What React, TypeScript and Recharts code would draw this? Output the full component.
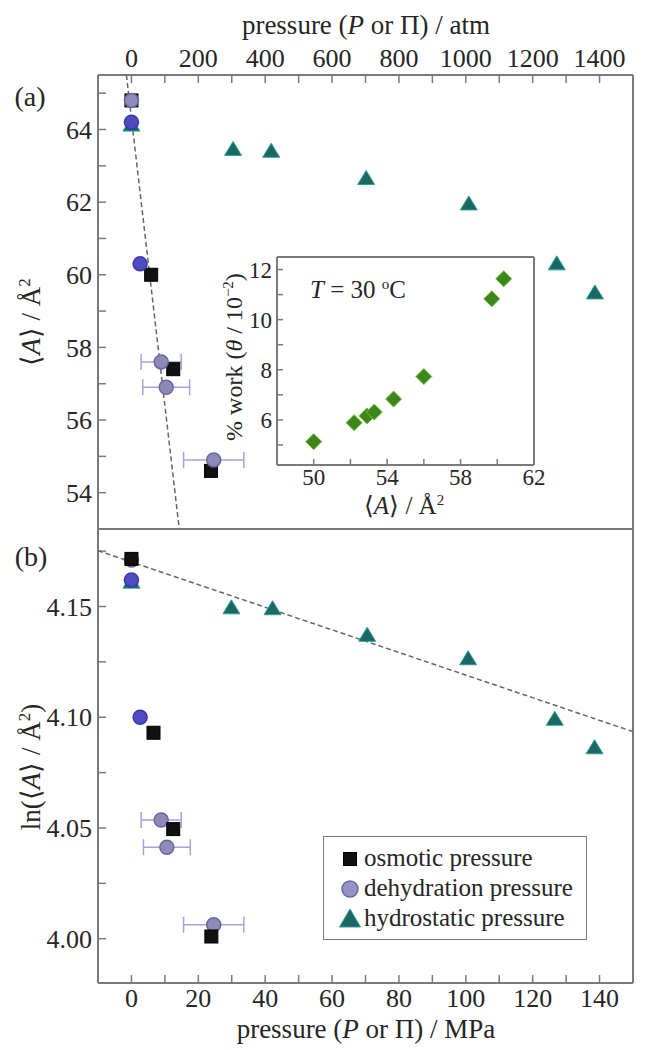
import { ScatterChart, Scatter, XAxis, YAxis, ErrorBar, Legend } from "recharts";

const FONT = "'Liberation Serif', 'Times New Roman', Times, serif";
const TEXT = "#262626";
const FRAME = "#7a7a7a";

// panel (a): <A> / Å^2 against pressure in MPa
const osmoticA = [
  { x: 0, y: 64.8 },
  { x: 5.9, y: 60.0 },
  { x: 12.5, y: 57.4 },
  { x: 23.8, y: 54.6 },
];
const dehydBlueA = [
  { x: 0, y: 64.2 },
  { x: 2.6, y: 60.3 },
];
const dehydGrayA = [
  { x: 0, y: 64.8 },
  { x: 8.9, y: 57.6, err: 6 },
  { x: 10.4, y: 56.9, err: 7 },
  { x: 24.6, y: 54.9, err: 9 },
];
const hydroA = [
  { x: 0, y: 64.12 },
  { x: 30.4, y: 63.45 },
  { x: 41.8, y: 63.4 },
  { x: 70.2, y: 62.65 },
  { x: 100.9, y: 61.95 },
  { x: 127.2, y: 60.3 },
  { x: 138.6, y: 59.5 },
];
const fitA = [
  { x: -1.5, y: 65.5 },
  { x: 14.3, y: 53 },
];

// panel (b): ln(<A> / Å^2)
const osmoticB = [
  { x: 0, y: 4.1715 },
  { x: 6.6, y: 4.093 },
  { x: 12.5, y: 4.0495 },
  { x: 23.9, y: 4.001 },
];
const dehydBlueB = [
  { x: 0, y: 4.162 },
  { x: 2.6, y: 4.1 },
];
const dehydGrayB = [
  { x: 0, y: 4.171 },
  { x: 8.9, y: 4.0536, err: 6 },
  { x: 10.6, y: 4.0413, err: 7 },
  { x: 24.6, y: 4.0063, err: 9 },
];
const hydroB = [
  { x: 0, y: 4.161 },
  { x: 29.9, y: 4.1494 },
  { x: 42.2, y: 4.149 },
  { x: 70.5, y: 4.137 },
  { x: 100.7, y: 4.1264 },
  { x: 126.6, y: 4.0991 },
  { x: 138.5, y: 4.0862 },
];
const fitB = [
  { x: -10, y: 4.1752 },
  { x: 150, y: 4.0935 },
];

// inset: % work vs <A>
const insetArea = [50.0, 52.2, 52.9, 53.3, 54.35, 56.0, 59.7, 60.35];
const insetWork = [5.13, 5.89, 6.16, 6.31, 6.83, 7.73, 10.83, 11.63];
const insetData = insetArea.map((a, i) => ({ x: a, y: insetWork[i] }));

// ticks
const atmTicks = [0, 100, 200, 300, 400, 500, 600, 700, 800, 900, 1000, 1100, 1200, 1300, 1400];
const mpaTicks = [0, 10, 20, 30, 40, 50, 60, 70, 80, 90, 100, 110, 120, 130, 140];
const areaTicks = [54, 55, 56, 57, 58, 59, 60, 61, 62, 63, 64, 65];
const lnTicks = [4.0, 4.025, 4.05, 4.075, 4.1, 4.125, 4.15, 4.175];
const insetXTicks = [50, 52, 54, 56, 58, 60, 62];
const insetYTicks = [5, 6, 7, 8, 9, 10, 11, 12];

const legendNames = ["osmotic pressure", "dehydration pressure", "hydrostatic pressure"];

const tickFont = { fontSize: 26, fill: TEXT, fontFamily: FONT };
const insetFont = { fontSize: 23, fill: TEXT, fontFamily: FONT };
const tickLine = { stroke: FRAME, strokeWidth: 1.5 };
const axisLine = { stroke: FRAME, strokeWidth: 2 };

const every = (n: number, from = 0) => (v: number) =>
  Math.round(v - from) % n === 0 ? String(v) : "";
const lnFmt = (v: number) => (Math.round(v * 1000) % 50 === 0 ? v.toFixed(2) : "");

const SquareMark = (p: any) => (
  <rect x={p.cx - 6.5} y={p.cy - 6.5} width={13} height={13} fill="#111" stroke="#000" strokeWidth={1} />
);
const grayCircle = (p: any) => (
  <circle cx={p.cx} cy={p.cy} r={7} fill="#8d8ab8" stroke="#6a679c" strokeWidth={1.5} />
);
const blueCircle = (p: any) => (
  <circle cx={p.cx} cy={p.cy} r={7} fill="#4f4cc2" stroke="#3b38a8" strokeWidth={1.5} />
);
const TriangleMark = (p: any) => (
  <path
    d={`M${p.cx},${p.cy - 8} L${p.cx + 8.5},${p.cy + 6} L${p.cx - 8.5},${p.cy + 6} Z`}
    fill="#1b6763"
    stroke="#2f9f99"
    strokeWidth={1}
  />
);
const DiamondMark = (p: any) => (
  <path
    d={`M${p.cx},${p.cy - 8} L${p.cx + 8},${p.cy} L${p.cx},${p.cy + 8} L${p.cx - 8},${p.cy} Z`}
    fill="#3c861c"
    stroke="#79bf3f"
    strokeWidth={1}
  />
);
const noMark = () => <g />;

const legendIcons: Record<string, (p: any) => any> = {
  "osmotic pressure": SquareMark,
  "dehydration pressure": (p: any) => (
    <circle cx={p.cx} cy={p.cy} r={8} fill="#9693c9" stroke="#6a679c" strokeWidth={1.5} />
  ),
  "hydrostatic pressure": (p: any) => (
    <path
      d={`M${p.cx},${p.cy - 10} L${p.cx + 10.5},${p.cy + 8} L${p.cx - 10.5},${p.cy + 8} Z`}
      fill="#1b6763"
      stroke="#2f9f99"
      strokeWidth={1}
    />
  ),
};

function LegendBox(props: any) {
  const items = (props.payload || [])
    .filter((e: any) => legendNames.includes(e.value))
    .sort((a: any, b: any) => legendNames.indexOf(a.value) - legendNames.indexOf(b.value));
  return (
    <div
      style={{
        border: `1.5px solid ${FRAME}`,
        background: "#fff",
        padding: "6px 6px 6px 14px",
        fontFamily: FONT,
        fontSize: 25,
        color: TEXT,
        lineHeight: "30px",
      }}
    >
      {items.map((e: any) => (
        <div key={e.value} style={{ display: "flex", alignItems: "center", whiteSpace: "nowrap" }}>
          <svg width={24} height={24} style={{ marginRight: 2 }}>
            {legendIcons[e.value]({ cx: 12, cy: 13 })}
          </svg>
          <span>{e.value}</span>
        </div>
      ))}
    </div>
  );
}

function Titles() {
  return (
    <svg
      width={651}
      height={1050}
      style={{ position: "absolute", left: 0, top: 0, pointerEvents: "none", fontFamily: FONT }}
      fill={TEXT}
    >
      <text x={366} y={34} fontSize={27} textAnchor="middle">
        pressure (<tspan fontStyle="italic">P</tspan> or Π) / atm
      </text>
      <text x={366} y={1038} fontSize={27} textAnchor="middle">
        pressure (<tspan fontStyle="italic">P</tspan> or Π) / MPa
      </text>
      <text x={30} y={106} fontSize={28} textAnchor="middle">
        (a)
      </text>
      <text x={31} y={566} fontSize={28} textAnchor="middle">
        (b)
      </text>
      <text transform="translate(40,322) rotate(-90)" fontSize={27} textAnchor="middle">
        ⟨<tspan fontStyle="italic">A</tspan>⟩ / Å
        <tspan dy={-10} fontSize={17}>2</tspan>
      </text>
      <text transform="translate(40,767) rotate(-90)" fontSize={27} textAnchor="middle">
        ln(⟨<tspan fontStyle="italic">A</tspan>⟩ / Å
        <tspan dy={-10} fontSize={17}>2</tspan>
        <tspan dy={10}>)</tspan>
      </text>
      <text transform="translate(242,357) rotate(-90)" fontSize={24} textAnchor="middle">
        % work (<tspan fontStyle="italic">θ</tspan> / 10
        <tspan dy={-9} fontSize={15}>−2</tspan>
        <tspan dy={9}>)</tspan>
      </text>
      <text x={404} y={514} fontSize={25} textAnchor="middle">
        ⟨<tspan fontStyle="italic">A</tspan>⟩ / Å
        <tspan dy={-9} fontSize={15}>2</tspan>
      </text>
      <text x={310} y={298} fontSize={25}>
        <tspan fontStyle="italic">T</tspan> = 30 <tspan dy={-9} fontSize={15}>o</tspan>
        <tspan dy={9}>C</tspan>
      </text>
    </svg>
  );
}

export default function App() {
  return (
    <div style={{ position: "absolute", left: 0, top: 0, width: 651, height: 1050, background: "#fff", fontFamily: FONT }}>
      {/* panel (a) */}
      <div style={{ position: "absolute", left: 0, top: 0 }}>
        <ScatterChart width={651} height={530} margin={{ top: 35, right: 17, bottom: 0, left: 38 }}>
          <XAxis
            xAxisId="top"
            orientation="top"
            type="number"
            dataKey="x"
            domain={[-100, 1500]}
            allowDataOverflow
            ticks={atmTicks}
            interval={0}
            height={40}
            tickSize={-8}
            tickMargin={16}
            tickFormatter={every(200)}
            tick={tickFont}
            tickLine={tickLine}
            axisLine={axisLine}
          />
          <XAxis
            xAxisId="bottom"
            orientation="bottom"
            type="number"
            dataKey="x"
            domain={[-10, 150]}
            allowDataOverflow
            ticks={mpaTicks}
            interval={0}
            height={1}
            tickSize={-8}
            tick={false}
            tickLine={tickLine}
            axisLine={axisLine}
          />
          <YAxis
            yAxisId="left"
            type="number"
            dataKey="y"
            domain={[53, 65.5]}
            allowDataOverflow
            ticks={areaTicks}
            interval={0}
            width={60}
            tickSize={-8}
            tickMargin={14}
            tickFormatter={every(2)}
            tick={tickFont}
            tickLine={tickLine}
            axisLine={axisLine}
          />
          <YAxis
            yAxisId="right"
            orientation="right"
            type="number"
            dataKey="y"
            domain={[53, 65.5]}
            allowDataOverflow
            ticks={areaTicks}
            interval={0}
            width={1}
            tickSize={-8}
            tick={false}
            tickLine={tickLine}
            axisLine={axisLine}
          />
          <Scatter data={fitA} xAxisId="bottom" yAxisId="left" shape={noMark}
            line={{ stroke: "#666", strokeWidth: 1.5, strokeDasharray: "5 3" }} isAnimationActive={false} />
          <Scatter data={hydroA} xAxisId="bottom" yAxisId="left" shape={TriangleMark} isAnimationActive={false} />
          <Scatter data={osmoticA} xAxisId="bottom" yAxisId="left" shape={SquareMark} isAnimationActive={false} />
          <Scatter data={dehydGrayA} xAxisId="bottom" yAxisId="left" shape={grayCircle} isAnimationActive={false}>
            <ErrorBar dataKey="err" direction="x" width={8} stroke="#a6a3da" strokeWidth={1.5} />
          </Scatter>
          <Scatter data={dehydBlueA} xAxisId="bottom" yAxisId="left" shape={blueCircle} isAnimationActive={false} />
        </ScatterChart>
      </div>

      {/* panel (b) */}
      <div style={{ position: "absolute", left: 0, top: 500 }}>
        <ScatterChart width={651} height={550} margin={{ top: 28, right: 17, bottom: 27, left: 38 }}>
          <XAxis
            xAxisId="top"
            orientation="top"
            type="number"
            dataKey="x"
            domain={[-10, 150]}
            allowDataOverflow
            ticks={mpaTicks}
            interval={0}
            height={1}
            tickSize={-8}
            tick={false}
            tickLine={tickLine}
            axisLine={axisLine}
          />
          <XAxis
            xAxisId="bottom"
            orientation="bottom"
            type="number"
            dataKey="x"
            domain={[-10, 150]}
            allowDataOverflow
            ticks={mpaTicks}
            interval={0}
            height={40}
            tickSize={-8}
            tickMargin={14}
            tickFormatter={every(20)}
            tick={tickFont}
            tickLine={tickLine}
            axisLine={axisLine}
          />
          <YAxis
            yAxisId="left"
            type="number"
            dataKey="y"
            domain={[3.98, 4.185]}
            allowDataOverflow
            ticks={lnTicks}
            interval={0}
            width={60}
            tickSize={-8}
            tickMargin={14}
            tickFormatter={lnFmt}
            tick={tickFont}
            tickLine={tickLine}
            axisLine={axisLine}
          />
          <YAxis
            yAxisId="right"
            orientation="right"
            type="number"
            dataKey="y"
            domain={[3.98, 4.185]}
            allowDataOverflow
            ticks={lnTicks}
            interval={0}
            width={1}
            tickSize={-8}
            tick={false}
            tickLine={tickLine}
            axisLine={axisLine}
          />
          <Scatter data={fitB} xAxisId="bottom" yAxisId="left" shape={noMark} legendType="none"
            line={{ stroke: "#666", strokeWidth: 1.5, strokeDasharray: "5 3" }} isAnimationActive={false} />
          <Scatter name="dehydration pressure" data={dehydGrayB} xAxisId="bottom" yAxisId="left"
            shape={grayCircle} isAnimationActive={false}>
            <ErrorBar dataKey="err" direction="x" width={8} stroke="#a6a3da" strokeWidth={1.5} />
          </Scatter>
          <Scatter name="hydrostatic pressure" data={hydroB} xAxisId="bottom" yAxisId="left"
            shape={TriangleMark} isAnimationActive={false} />
          <Scatter data={dehydBlueB} xAxisId="bottom" yAxisId="left" shape={blueCircle} legendType="none"
            isAnimationActive={false} />
          <Scatter name="osmotic pressure" data={osmoticB} xAxisId="bottom" yAxisId="left"
            shape={SquareMark} isAnimationActive={false} />
          <Legend
            layout="vertical"
            align="center"
            verticalAlign="middle"
            content={<LegendBox />}
            wrapperStyle={{ left: 323, top: 336, width: 264 }}
          />
        </ScatterChart>
      </div>

      {/* inset */}
      <div style={{ position: "absolute", left: 200, top: 230 }}>
        <ScatterChart width={350} height={300} margin={{ top: 26, right: 15, bottom: 35, left: 37 }}>
          <XAxis
            xAxisId="top"
            orientation="top"
            type="number"
            dataKey="x"
            domain={[48, 62]}
            allowDataOverflow
            ticks={insetXTicks}
            interval={0}
            height={1}
            tickSize={-6}
            tick={false}
            tickLine={tickLine}
            axisLine={axisLine}
          />
          <XAxis
            xAxisId="bottom"
            orientation="bottom"
            type="number"
            dataKey="x"
            domain={[48, 62]}
            allowDataOverflow
            ticks={insetXTicks}
            interval={0}
            height={30}
            tickSize={-6}
            tickMargin={10}
            tickFormatter={every(4, 50)}
            tick={insetFont}
            tickLine={tickLine}
            axisLine={axisLine}
          />
          <YAxis
            yAxisId="left"
            type="number"
            dataKey="y"
            domain={[4.2, 12.5]}
            allowDataOverflow
            ticks={insetYTicks}
            interval={0}
            width={40}
            tickSize={-6}
            tickMargin={11}
            tickFormatter={every(2)}
            tick={insetFont}
            tickLine={tickLine}
            axisLine={axisLine}
          />
          <YAxis
            yAxisId="right"
            orientation="right"
            type="number"
            dataKey="y"
            domain={[4.2, 12.5]}
            allowDataOverflow
            ticks={insetYTicks}
            interval={0}
            width={1}
            tickSize={-6}
            tick={false}
            tickLine={tickLine}
            axisLine={axisLine}
          />
          <Scatter data={insetData} xAxisId="bottom" yAxisId="left" shape={DiamondMark} isAnimationActive={false} />
        </ScatterChart>
      </div>

      <Titles />
    </div>
  );
}
